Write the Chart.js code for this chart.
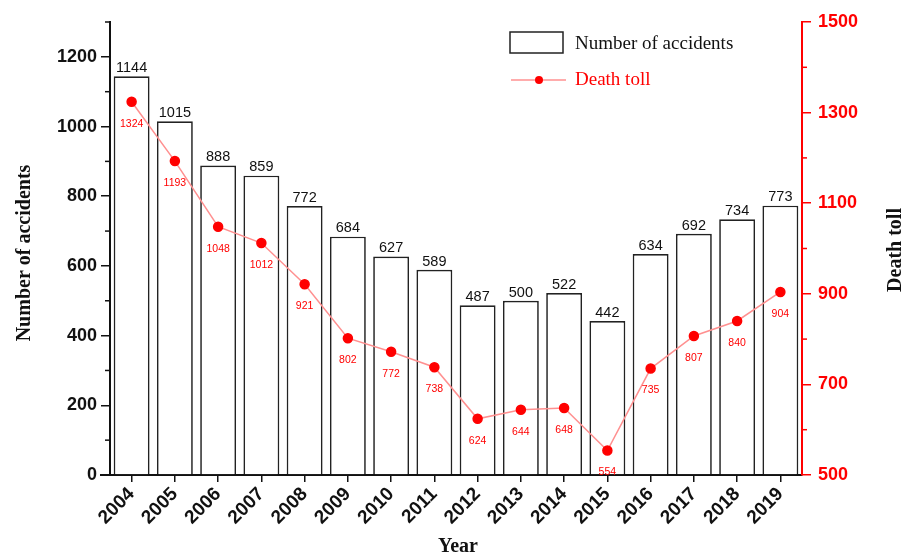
<!DOCTYPE html>
<html>
<head>
<meta charset="utf-8">
<script src="https://cdn.jsdelivr.net/npm/chart.js@4.4.1/dist/chart.umd.min.js"></script>
<style>
html, body { margin: 0; padding: 0; background: #fff; }
</style>
</head>
<body>
<canvas id="grafico" width="906" height="556"></canvas>
<script>
// Datos
const anios = ['2004', '2005', '2006', '2007', '2008', '2009', '2010', '2011', '2012', '2013', '2014', '2015', '2016', '2017', '2018', '2019'];
const accidentes = [1144, 1015, 888, 859, 772, 684, 627, 589, 487, 500, 522, 442, 634, 692, 734, 773];
const muertes = [1324, 1193, 1048, 1012, 921, 802, 772, 738, 624, 644, 648, 554, 735, 807, 840, 904];
// Marcas menores de los ejes
const menoresIzq = [100, 300, 500, 700, 900, 1100, 1300];
const menoresDer = [600, 800, 1000, 1200, 1400];

const fuenteArial = '"Liberation Sans", Arial, sans-serif';
const fuenteTimes = '"Liberation Serif", "Times New Roman", serif';

// Plugin para etiquetas de valores, leyenda, titulos y marcas menores
const extrasPlugin = {
    id: 'extras',
    afterDatasetsDraw(chart) {
        const ctx = chart.ctx;
        const barras = chart.getDatasetMeta(0).data;
        const puntos = chart.getDatasetMeta(1).data;
        ctx.save();
        ctx.textAlign = 'center';
        ctx.font = '14.5px ' + fuenteArial;
        ctx.fillStyle = '#111';
        ctx.textBaseline = 'bottom';
        barras.forEach((b, i) => ctx.fillText(accidentes[i], b.x, b.y - 1));
        ctx.font = '10.5px ' + fuenteArial;
        ctx.fillStyle = '#ff0000';
        ctx.textBaseline = 'middle';
        puntos.forEach((p, i) => ctx.fillText(muertes[i], p.x, p.y + 22));
        ctx.restore();
    },
    afterDraw(chart) {
        const ctx = chart.ctx;
        const area = chart.chartArea;
        const yIzq = chart.scales.y;
        const yDer = chart.scales.y1;
        ctx.save();
        // marcas menores
        ctx.lineWidth = 1.5;
        ctx.strokeStyle = '#111';
        menoresIzq.forEach(v => {
            const py = yIzq.getPixelForValue(v);
            ctx.beginPath();
            ctx.moveTo(area.left - 5, py);
            ctx.lineTo(area.left, py);
            ctx.stroke();
        });
        ctx.strokeStyle = '#ff0000';
        menoresDer.forEach(v => {
            const py = yDer.getPixelForValue(v);
            ctx.beginPath();
            ctx.moveTo(area.right, py);
            ctx.lineTo(area.right + 5, py);
            ctx.stroke();
        });
        // prolongacion del eje x a la izquierda
        ctx.strokeStyle = '#111';
        ctx.lineWidth = 2;
        ctx.beginPath();
        ctx.moveTo(area.left - 10, area.bottom);
        ctx.lineTo(area.left, area.bottom);
        ctx.stroke();

        // titulos de los ejes
        ctx.font = 'bold 20px ' + fuenteTimes;
        ctx.textAlign = 'center';
        ctx.textBaseline = 'middle';
        ctx.fillStyle = '#111';
        ctx.save();
        ctx.translate(25, 253);
        ctx.rotate(-Math.PI / 2);
        ctx.fillText('Number of accidents', 0, 0);
        ctx.restore();
        ctx.save();
        ctx.translate(896, 250);
        ctx.rotate(-Math.PI / 2);
        ctx.fillText('Death toll', 0, 0);
        ctx.restore();
        ctx.textBaseline = 'alphabetic';
        ctx.fillText('Year', 458, 552);

        // leyenda
        ctx.lineWidth = 1.5;
        ctx.strokeStyle = '#222';
        ctx.fillStyle = '#fff';
        ctx.fillRect(510, 32, 53, 21);
        ctx.strokeRect(510, 32, 53, 21);
        ctx.font = '19px ' + fuenteTimes;
        ctx.textAlign = 'left';
        ctx.textBaseline = 'middle';
        ctx.fillStyle = '#111';
        ctx.fillText('Number of accidents', 575, 44);
        ctx.strokeStyle = '#ff9090';
        ctx.beginPath();
        ctx.moveTo(511, 80);
        ctx.lineTo(566, 80);
        ctx.stroke();
        ctx.fillStyle = '#ff0000';
        ctx.beginPath();
        ctx.arc(539, 80, 4, 0, Math.PI * 2);
        ctx.fill();
        ctx.fillText('Death toll', 575, 80);
        ctx.restore();
    }
};

const migrafico = document.getElementById('grafico');

const datosBarras = {
    type: 'bar',
    label: 'Number of accidents',
    data: accidentes,
    yAxisID: 'y',
    backgroundColor: '#ffffff',
    borderColor: '#222222',
    borderWidth: 1.7,
    categoryPercentage: 1,
    barPercentage: 0.83,
    order: 2
};
const datosLinea = {
    type: 'line',
    label: 'Death toll',
    data: muertes,
    yAxisID: 'y1',
    borderColor: '#ff9090',
    borderWidth: 1.5,
    pointBackgroundColor: '#ff0000',
    pointBorderColor: '#ff0000',
    pointRadius: 4.5,
    tension: 0,
    order: 1
};

const config = {
    type: 'bar',
    data: {
        labels: anios,
        datasets: [datosBarras, datosLinea]
    },
    options: {
        responsive: false,
        animation: false,
        layout: { padding: { top: 22 } },
        plugins: {
            legend: { display: false },
            tooltip: { enabled: false }
        },
        scales: {
            x: {
                afterFit: scale => { scale.height = 81; },
                grid: { drawOnChartArea: false, offset: false, tickLength: 7, color: '#111', lineWidth: 1.5 },
                border: { color: '#111', width: 2 },
                ticks: {
                    color: '#111',
                    font: { family: fuenteArial, size: 19, weight: 'bold' },
                    maxRotation: 45,
                    minRotation: 45,
                    autoSkip: false,
                    padding: 1
                }
            },
            y: {
                position: 'left',
                min: 0,
                max: 1300,
                afterFit: scale => { scale.width = 110; },
                grid: { drawOnChartArea: false, tickLength: 9, color: '#111', lineWidth: 1.5 },
                border: { color: '#111', width: 2 },
                ticks: {
                    stepSize: 200,
                    includeBounds: false,
                    color: '#111',
                    padding: 4,
                    font: { family: fuenteArial, size: 18, weight: 'bold' },
                    callback: valor => String(valor)
                }
            },
            y1: {
                position: 'right',
                min: 500,
                max: 1500,
                afterFit: scale => { scale.width = 104; },
                grid: { drawOnChartArea: false, tickLength: 9, color: '#ff0000', lineWidth: 1.5 },
                border: { color: '#ff0000', width: 2 },
                ticks: {
                    stepSize: 200,
                    color: '#ff0000',
                    padding: 7,
                    font: { family: fuenteArial, size: 18, weight: 'bold' },
                    callback: valor => String(valor)
                }
            }
        }
    },
    plugins: [extrasPlugin]
};
let graficoActual = new Chart(migrafico, config);
</script>
</body>
</html>
